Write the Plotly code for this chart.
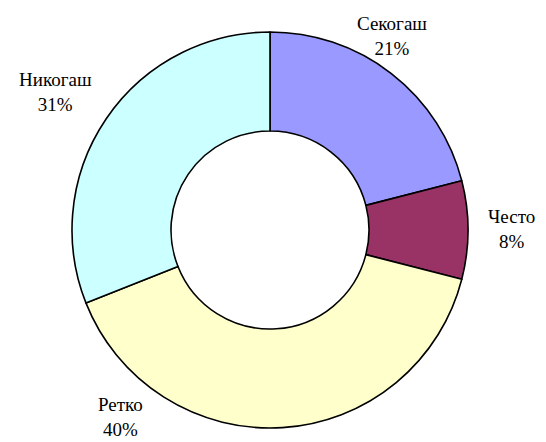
import plotly.graph_objects as go

labels = ["Секогаш", "Често", "Ретко", "Никогаш"]
values = [21, 8, 40, 31]
colors = ["#9999FF", "#993366", "#FFFFCC", "#CCFFFF"]

OFF = 8  # page body margin offset
W, H = 546 - OFF, 442 - OFF
cx, cy, R = 270 - OFF, 230 - OFF, 198

fig = go.Figure(go.Pie(
    labels=labels, values=values, sort=False, direction="clockwise",
    rotation=0, hole=0.5, textinfo="none", hoverinfo="label+percent",
    marker=dict(colors=colors, line=dict(color="black", width=1.6)),
    domain=dict(x=[(cx - R) / W, (cx + R) / W],
                y=[(H - cy - R) / H, (H - cy + R) / H]),
    showlegend=False,
))

# label positions (page pixel centers of the two-line text blocks)
label_pos = [(392, 36), (511, 229), (120, 417), (55, 92)]
total = sum(values)
for lab, v, (x, y) in zip(labels, values, label_pos):
    fig.add_annotation(
        x=(x - OFF) / W, y=1 - (y - OFF) / H, xref="paper", yref="paper",
        text=f"{lab}<br>{round(100 * v / total)}%", showarrow=False,
        font=dict(family="Liberation Serif", size=19, color="black"),
        align="center", xanchor="center", yanchor="middle",
    )

fig.update_layout(
    width=W, height=H, margin=dict(l=0, r=0, t=0, b=0),
    paper_bgcolor="white", plot_bgcolor="white",
)
fig.write_html("out.html")
